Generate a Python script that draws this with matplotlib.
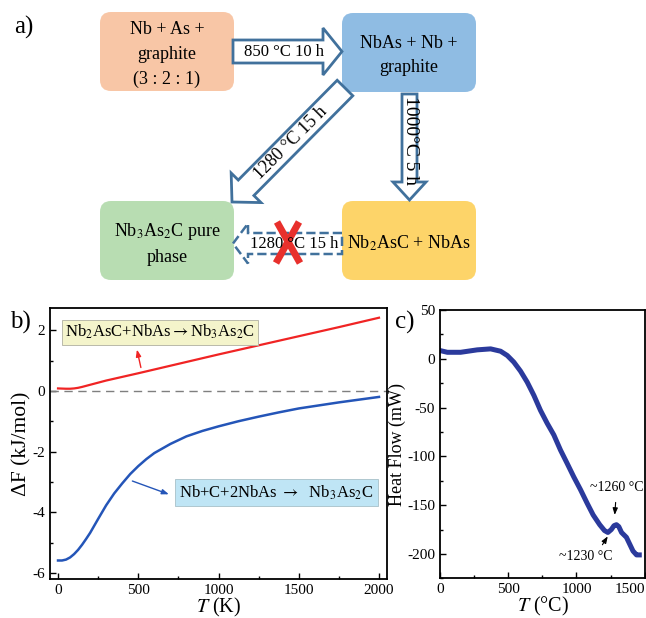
import numpy as np
import matplotlib
matplotlib.use('Agg')
import matplotlib.pyplot as plt
from matplotlib.patches import FancyBboxPatch, Polygon
from matplotlib.ticker import MultipleLocator

plt.rcParams['font.family'] = ['Liberation Serif', 'DejaVu Serif']
plt.rcParams['mathtext.fontset'] = 'stix'
plt.rcParams['axes.unicode_minus'] = False

# b) free energy of formation vs T
t_red = [0, 50, 75, 100, 125, 150, 200, 250, 300, 400, 500, 750, 1000, 1250, 1500, 1750, 2000]
df_red = [0.08, 0.07, 0.07, 0.08, 0.1, 0.13, 0.2, 0.27, 0.34, 0.46, 0.58, 0.89, 1.2, 1.5,
          1.8, 2.1, 2.41]
t_blue = [0, 25, 50, 75, 100, 125, 150, 175, 200, 250, 300, 350, 400, 450, 500, 550, 600,
          700, 800, 900, 1000, 1125, 1250, 1375, 1500, 1750, 2000]
df_blue = [-5.59, -5.59, -5.56, -5.49, -5.38, -5.24, -5.07, -4.88, -4.68, -4.22, -3.77,
           -3.38, -3.05, -2.74, -2.48, -2.25, -2.05, -1.75, -1.5, -1.32, -1.17, -1.0,
           -0.85, -0.71, -0.58, -0.38, -0.2]

# c) DSC heat flow
t_dsc = [0, 54, 151, 273, 371, 444, 493, 541, 590, 639, 688, 736, 785, 834, 883, 931,
         980, 1029, 1078, 1122, 1170, 1205, 1230, 1255, 1275, 1293, 1310, 1330, 1366,
         1390, 1414, 1440, 1460]
heat_flow = [8.5, 6.7, 6.7, 9.2, 10.2, 7.8, 3.4, -3.4, -12.6, -23.9, -37.5, -52.8, -66,
             -78, -93.6, -107, -121, -134, -148, -160, -170, -176, -178, -175, -171, -170,
             -172, -178, -183, -190, -197, -201, -201]
c_xticks = [0, 500, 1000, 1500]

BORDER = '#41719c'


def block_arrow(ax, tail, tip, shaft_w, head_w, head_len, **kw):
    x0, y0 = tail
    x1, y1 = tip
    L = np.hypot(x1 - x0, y1 - y0)
    ux, uy = (x1 - x0) / L, (y1 - y0) / L
    px, py = -uy, ux
    bx, by = x1 - ux * head_len, y1 - uy * head_len
    s, h = shaft_w / 2, head_w / 2
    pts = [(x0 + px * s, y0 + py * s), (bx + px * s, by + py * s), (bx + px * h, by + py * h),
           (x1, y1), (bx - px * h, by - py * h), (bx - px * s, by - py * s),
           (x0 - px * s, y0 - py * s)]
    ax.add_patch(Polygon(pts, closed=True, fc='white', ec=BORDER, **kw))


fig = plt.figure(figsize=(6.46, 6.18), dpi=100)

# panel a, drawn in pixel coordinates
ax_a = fig.add_axes([0, 0, 1, 1])
ax_a.set_xlim(0, 646)
ax_a.set_ylim(618, 0)
ax_a.axis('off')

boxes = [
    ((100, 12), '#f8c6a6', 'Nb + As +\ngraphite\n(3 : 2 : 1)'),
    ((342, 13), '#8fbce3', 'NbAs + Nb +\ngraphite'),
    ((100, 201), '#b8ddb2', 'Nb$_3$As$_2$C pure\nphase'),
    ((342, 201), '#fdd469', 'Nb$_2$AsC + NbAs'),
]
for (x, y), col, txt in boxes:
    ax_a.add_patch(FancyBboxPatch((x, y), 134, 79, boxstyle='round,pad=0,rounding_size=11',
                                  fc=col, ec='none'))
    ax_a.text(x + 67, y + 42.5, txt, ha='center', va='center', fontsize=13, linespacing=1.6)

block_arrow(ax_a, (233, 51.5), (342, 51.5), 23, 47, 19, lw=2)
ax_a.text(284, 52, '850 °C 10 h', ha='center', va='center', fontsize=12)

block_arrow(ax_a, (409.5, 94), (409.5, 200), 15, 33, 18, lw=2)
ax_a.text(410, 141, '1000°C 5 h', ha='center', va='center', fontsize=14, rotation=-90)

block_arrow(ax_a, (345, 88), (232, 202), 22, 42, 20, lw=2)
ax_a.text(291, 143, '1280 °C 15 h', ha='center', va='center', fontsize=13, rotation=45)

block_arrow(ax_a, (342, 243.5), (233, 243.5), 21, 40, 15, lw=1.8, ls='--')
ax_a.text(294, 244, '1280 °C 15 h', ha='center', va='center', fontsize=12)
ax_a.plot([277, 300], [222, 263], color='#e8302c', lw=5, solid_capstyle='butt')
ax_a.plot([299, 276], [222, 263], color='#e8302c', lw=5, solid_capstyle='butt')

ax_a.text(14, 27, 'a)', fontsize=18, va='center')
ax_a.text(10, 322, 'b)', fontsize=18, va='center')
ax_a.text(395, 322, 'c)', fontsize=18, va='center')

# panel b
ax_b = fig.add_axes([0.0774, 0.0631, 0.5217, 0.4385])
ax_b.plot(t_red, df_red, color='#f02424', lw=1.6)
ax_b.plot(t_blue, df_blue, color='#2455b8', lw=1.8)
ax_b.axhline(0, color='#7f7f7f', lw=1.0, ls=(0, (6, 4)))
ax_b.set_xlim(-50, 2050)
ax_b.set_ylim(-6.2, 2.73)
ax_b.xaxis.set_major_locator(MultipleLocator(500))
ax_b.xaxis.set_minor_locator(MultipleLocator(250))
ax_b.yaxis.set_major_locator(MultipleLocator(2))
ax_b.yaxis.set_minor_locator(MultipleLocator(1))
ax_b.set_xlabel('$T$ (K)', fontsize=14.5, labelpad=-1)
ax_b.set_ylabel('ΔF (kJ/mol)', fontsize=15.5, labelpad=1)
ax_b.text(0.326, 0.911, r'Nb$_2$AsC+NbAs$\rightarrow$Nb$_3$As$_2$C', transform=ax_b.transAxes,
          ha='center', va='center', fontsize=12,
          bbox=dict(boxstyle='square,pad=0.2', fc='#f4f4cb', ec='#b0b0a0', lw=0.6))
ax_b.text(0.672, 0.319, r'Nb+C+2NbAs $\rightarrow$  Nb$_3$As$_2$C', transform=ax_b.transAxes,
          ha='center', va='center', fontsize=12,
          bbox=dict(boxstyle='square,pad=0.25', fc='#bfe5f5', ec='#a8c0c8', lw=0.6))
ax_b.annotate('', xy=(488, 1.45), xytext=(520, 0.68),
              arrowprops=dict(arrowstyle='-|>,head_length=0.4,head_width=0.15', color='#f02424', lw=1))
ax_b.annotate('', xy=(707, -3.44), xytext=(447, -2.94),
              arrowprops=dict(arrowstyle='-|>,head_length=0.4,head_width=0.15', color='#2455b8', lw=1))

# panel c
ax_c = fig.add_axes([0.6811, 0.0642, 0.3180, 0.4341])
ax_c.plot(t_dsc, heat_flow, color='#2b3a9c', lw=3.6, solid_joinstyle='round')
ax_c.set_xlim(0, 1505)
ax_c.set_ylim(-225, 50)
ax_c.set_xticks(c_xticks)
ax_c.xaxis.set_minor_locator(MultipleLocator(250))
ax_c.yaxis.set_major_locator(MultipleLocator(50))
ax_c.yaxis.set_minor_locator(MultipleLocator(25))
ax_c.set_xlabel('$T$ (°C)', fontsize=14.5, labelpad=-1)
ax_c.set_ylabel('Heat Flow (mW)', fontsize=13, labelpad=1)
ax_c.annotate('~1260 °C', xy=(1280, -160), xytext=(1295, -132), ha='center', va='center',
              fontsize=10, arrowprops=dict(arrowstyle='-|>,head_length=0.4,head_width=0.15',
                                           color='black', lw=0.8, shrinkA=4, shrinkB=0))
ax_c.annotate('~1230 °C', xy=(1229, -182), xytext=(1068, -202.5), ha='center', va='center',
              fontsize=10, arrowprops=dict(arrowstyle='-|>,head_length=0.4,head_width=0.15',
                                           color='black', lw=0.8, shrinkA=2, shrinkB=0,
                                           relpos=(0.75, 1)))

for ax in (ax_b, ax_c):
    ax.tick_params(which='both', direction='in', top=False, right=False, labelsize=11)
    ax.tick_params(which='major', length=4, width=1)
    ax.tick_params(which='minor', length=2.5, width=1)
    for sp in ax.spines.values():
        sp.set_linewidth(1.3)

# keep the last x label of panel c inside the figure edge
for lbl in ax_c.get_xticklabels():
    if lbl.get_text() == '1500' or lbl.get_position()[0] == 1500:
        lbl.set_ha('right')
ax_c.get_xticklabels()[-1].set_ha('right')

fig.savefig('out.png', dpi=100)
